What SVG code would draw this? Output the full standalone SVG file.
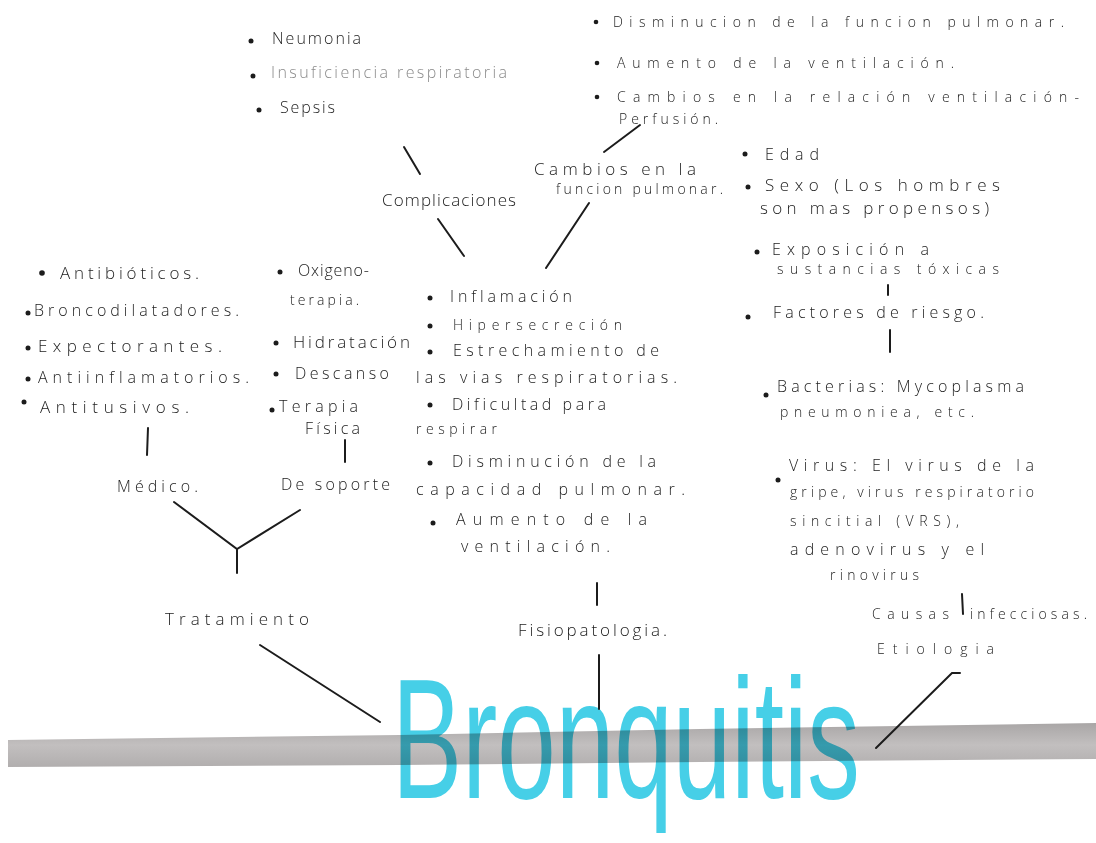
<svg xmlns="http://www.w3.org/2000/svg" width="1096" height="843" viewBox="0 0 1096 843">
<defs>
<style>
text{font-family:"Open Sans","Liberation Sans",sans-serif;font-weight:300;fill:#1c1c1c;font-size:16px;letter-spacing:1px}
.s{font-size:14px}
.l{font-size:17px}
.faint{fill:#8a8a8a}
.b{fill:#1c1c1c}
.c line,.c polyline{stroke:#1c1c1c;stroke-width:2;stroke-linecap:round;fill:none}
.title{font-family:"Liberation Sans",sans-serif;font-weight:400;font-size:170px;fill:#46cfe7;letter-spacing:0;mix-blend-mode:multiply}
</style>
<linearGradient id="band" x1="0" y1="0" x2="0" y2="1">
<stop offset="0" stop-color="#a9a6a6"/>
<stop offset="0.5" stop-color="#c2bfbf"/>
<stop offset="1" stop-color="#b1aeae"/>
</linearGradient>
</defs>
<rect width="1096" height="843" fill="#ffffff"/>

<g id="band-strip">
<polygon points="8,740 400,735 700,729 1096,723 1096,759 700,762 400,765 8,767" fill="url(#band)"/>
</g>
<g id="bronquitis">
<text class="title" transform="translate(392,798) scale(0.619,1)" x="0" y="0">Bronquitis</text>
</g>

<g id="complicaciones-items">
<circle class="b" cx="251" cy="41" r="2.5"/><text x="272" y="44" textLength="90">Neumonia</text>
<circle class="b" cx="253" cy="76" r="2.5"/><text class="faint" x="271" y="78" textLength="237">Insuficiencia respiratoria</text>
<circle class="b" cx="259" cy="110" r="2.5"/><text x="280" y="113" textLength="56">Sepsis</text>
</g>

<g id="cambios-items">
<circle class="b" cx="596" cy="22" r="2.3"/><text class="s" x="613" y="27" textLength="452">Disminucion de la funcion pulmonar.</text>
<circle class="b" cx="597" cy="63" r="2.3"/><text class="s" x="617" y="68" textLength="338">Aumento de la ventilación.</text>
<circle class="b" cx="597" cy="97" r="2.3"/><text class="s" x="617" y="102" textLength="463">Cambios en la relación ventilación-</text>
<text class="s" x="619" y="124" textLength="100">Perfusión.</text>
</g>

<g id="complicaciones"><text class="l" x="382" y="206" textLength="135">Complicaciones</text></g>
<g id="cambios"><text class="l" x="534" y="175" textLength="163">Cambios en la</text><text class="s" x="556" y="194" textLength="168">funcion pulmonar.</text></g>

<g id="fisiopatologia-items">
<circle class="b" cx="430" cy="298" r="2.5"/><text x="450" y="302" textLength="123">Inflamación</text>
<circle class="b" cx="430" cy="326" r="2.5"/><text class="s" x="453" y="330" textLength="170">Hipersecreción</text>
<circle class="b" cx="430" cy="352" r="2.5"/><text x="453" y="356" textLength="207">Estrechamiento de</text>
<text x="416" y="383" textLength="262">las vias respiratorias.</text>
<circle class="b" cx="430" cy="405" r="2.5"/><text x="452" y="410" textLength="155">Dificultad para</text>
<text class="s" x="416" y="434" textLength="82">respirar</text>
<circle class="b" cx="430" cy="463" r="2.5"/><text x="452" y="467" textLength="205">Disminución de la</text>
<text x="416" y="495" textLength="270">capacidad pulmonar.</text>
<circle class="b" cx="433" cy="523" r="2.5"/><text x="456" y="525" textLength="192">Aumento de la</text>
<text x="461" y="552" textLength="150">ventilación.</text>
</g>
<g id="fisiopatologia"><text class="l" x="518" y="636" textLength="150">Fisiopatologia.</text></g>

<g id="medico-items">
<circle class="b" cx="42" cy="273" r="2.8"/><text class="l" x="60" y="279" textLength="140">Antibióticos.</text>
<circle class="b" cx="28" cy="313" r="2.5"/><text x="34" y="316" textLength="206">Broncodilatadores.</text>
<circle class="b" cx="28" cy="348" r="2.5"/><text class="l" x="38" y="352" textLength="185">Expectorantes.</text>
<circle class="b" cx="28" cy="379" r="2.5"/><text x="38" y="383" textLength="212">Antiinflamatorios.</text>
<circle class="b" cx="24" cy="402" r="2.5"/><text class="l" x="40" y="413" textLength="150">Antitusivos.</text>
</g>
<g id="soporte-items">
<circle class="b" cx="280" cy="272" r="2.5"/><text x="298" y="276" textLength="72">Oxigeno-</text>
<text class="s" x="290" y="305" textLength="70">terapia.</text>
<circle class="b" cx="276" cy="343" r="2.5"/><text class="l" x="293" y="348" textLength="118">Hidratación</text>
<circle class="b" cx="276" cy="374" r="2.5"/><text x="295" y="379" textLength="95">Descanso</text>
<circle class="b" cx="272" cy="410" r="2.5"/><text x="279" y="412" textLength="80">Terapia</text>
<text x="305" y="434" textLength="56">Física</text>
</g>
<g id="medico"><text x="117" y="492" textLength="82">Médico.</text></g>
<g id="soporte"><text x="281" y="490" textLength="110">De soporte</text></g>
<g id="tratamiento"><text class="l" x="165" y="625" textLength="145">Tratamiento</text></g>

<g id="riesgo-items">
<circle class="b" cx="745" cy="154" r="2.5"/><text x="765" y="160" textLength="55">Edad</text>
<circle class="b" cx="748" cy="187" r="2.5"/><text class="l" x="765" y="191" textLength="236">Sexo (Los hombres</text>
<text class="l" x="760" y="214" textLength="230">son mas propensos)</text>
<circle class="b" cx="757" cy="252" r="2.5"/><text x="772" y="255" textLength="158">Exposición a</text>
<text class="s" x="777" y="274" textLength="223">sustancias tóxicas</text>
</g>
<g id="factores"><circle class="b" cx="748" cy="317" r="2.5"/><text x="773" y="318" textLength="212">Factores de riesgo.</text></g>

<g id="causas-items">
<circle class="b" cx="766" cy="395" r="2.5"/><text x="777" y="392" textLength="248">Bacterias: Mycoplasma</text>
<text class="s" x="780" y="417" textLength="195">pneumoniea, etc.</text>
<circle class="b" cx="778" cy="480" r="2.5"/><text x="789" y="471" textLength="246">Virus: El virus de la</text>
<text class="s" x="790" y="497" textLength="245">gripe, virus respiratorio</text>
<text class="s" x="790" y="526" textLength="170">sincitial (VRS),</text>
<text x="790" y="555" textLength="195">adenovirus y el</text>
<text class="s" x="830" y="580" textLength="90">rinovirus</text>
</g>
<g id="causas"><text class="s" y="619"><tspan x="872" textLength="78">Causas</tspan><tspan x="970" textLength="118">infecciosas.</tspan></text></g>
<g id="etiologia"><text class="s" x="877" y="654" textLength="118">Etiologia</text></g>

<g id="connectors" class="c">
<line x1="404" y1="147" x2="420" y2="174"/>
<line x1="438" y1="219" x2="464" y2="256"/>
<line x1="604" y1="152" x2="640" y2="125"/>
<line x1="589" y1="203" x2="546" y2="268"/>
<line x1="148" y1="428" x2="147" y2="455"/>
<line x1="345" y1="440" x2="345" y2="462"/>
<polyline points="174,502 237,549 300,510"/>
<line x1="237" y1="549" x2="237" y2="573"/>
<line x1="260" y1="645" x2="380" y2="722"/>
<line x1="597" y1="583" x2="597" y2="605"/>
<line x1="599" y1="655" x2="599" y2="709"/>
<line x1="888" y1="285" x2="888" y2="295"/>
<line x1="890" y1="330" x2="890" y2="352"/>
<line x1="962" y1="594" x2="963" y2="614"/>
<polyline points="960,673 952,673 876,748"/>
</g>
</svg>
